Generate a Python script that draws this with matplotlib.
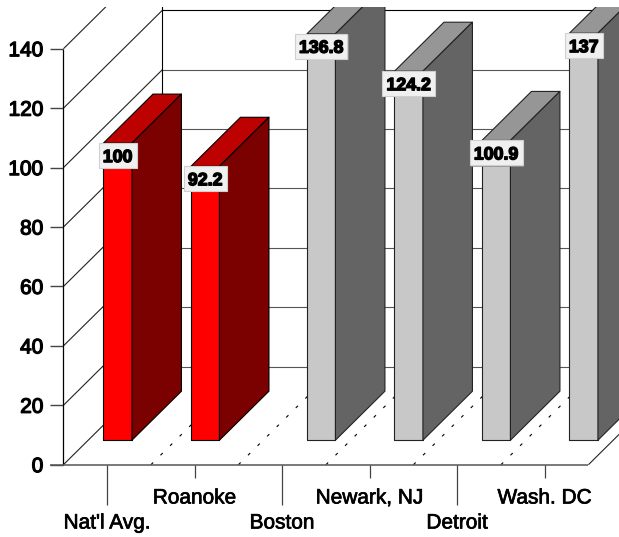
import matplotlib
matplotlib.use("Agg")
import matplotlib.pyplot as plt
from matplotlib.patches import Polygon, Rectangle
from matplotlib.transforms import IdentityTransform
import matplotlib.patheffects as pe

categories = ["Nat'l Avg.", "Roanoke", "Boston", "Newark, NJ", "Detroit", "Wash. DC"]
red_values = [100, 92.2, None, None, None, None]
gray_values = [None, None, 136.8, 124.2, 100.9, 137]
labels_red = ["100", "92.2", "", "", "", ""]
labels_gray = ["", "", "136.8", "124.2", "100.9", "137"]
y_ticks = [0, 20, 40, 60, 80, 100, 120, 140]

W, H = 619, 537
PX_CAT = 87.5
PX_VAL = 2.971
X0_PX = 107.2
Y0_PX = 464.7
TOP_PX = 7
DX = 99 / PX_CAT
DY = 98 / PX_VAL
BAR_W = 0.3255
D_FRONT, D_BACK = 0.25, 0.75

plt.rcParams["font.family"] = ["Liberation Sans", "DejaVu Sans"]
fig = plt.figure(figsize=(W / 100, H / 100), dpi=100, facecolor="white")
ax = fig.add_axes([0, 0, 1, (H - TOP_PX) / H])
ax.set_xlim(-X0_PX / PX_CAT, (W - X0_PX) / PX_CAT)
ax.set_ylim(-(H - Y0_PX) / PX_VAL, (Y0_PX - TOP_PX) / PX_VAL)
ax.axis("off")


def proj(c, v, d=0.0):
    return (c + d * DX, v + d * DY)


def seg(a, b, **kw):
    kw.setdefault("solid_capstyle", "butt")
    ax.plot([a[0], b[0]], [a[1], b[1]], **kw)


left = -0.5
right = len(categories) - 0.5
LW = 0.8

# walls and grid
for v in y_ticks:
    dark = "black" if v == 120 else "#555555"
    seg(proj(left, v, 0), proj(left, v, 1), color="#222222", lw=LW, zorder=1)
    seg(proj(left, v, 1), proj(right + 1.2, v, 1), color=dark, lw=LW, zorder=1)
    seg((left - 13.5 / PX_CAT, v), (left, v), color="#444444", lw=LW + 0.2, zorder=2)
    ax.text(left - 20 / PX_CAT, v, str(v), ha="right", va="center_baseline", fontsize=15,
            color="black", path_effects=[pe.withStroke(linewidth=0.9, foreground="black")], zorder=2)
seg((left, 0), (left, 140), color="black", lw=LW + 0.1, zorder=2)
seg(proj(left, 0, 1), proj(left, 160, 1), color="black", lw=LW, zorder=1)

# floor
seg((left - 13.5 / PX_CAT, 0), (right, 0), color="#555555", lw=LW + 0.3, zorder=2)
seg(proj(right, 0, 0), proj(right, 0, 1), color="#222222", lw=LW, zorder=1)
for i in range(1, len(categories)):
    ax.plot(*zip(proj(left + i, 0, 0), proj(left + i, 0, 1)), color="black", lw=LW,
            linestyle=(0, (2.8, 9.3)), zorder=1)

# category ticks and labels
for i, name in enumerate(categories):
    long_tick = i % 2 == 0
    length = 40 if long_tick else 13
    seg((i, 0), (i, -length / PX_VAL), color="#444444", lw=LW + 0.1, zorder=2)
    ypx = 523 if long_tick else 498
    ax.text(i, (Y0_PX - ypx) / PX_VAL, name, ha="center", va="center", fontsize=15, color="black",
            path_effects=[pe.withStroke(linewidth=0.5, foreground="black")], zorder=2)


def bar3d(c0, value, front, top, side, edge, z):
    c1 = c0 + BAR_W
    kw = dict(edgecolor=edge, linewidth=LW, joinstyle="round", zorder=z)
    ax.add_patch(Polygon([proj(c0, 0, D_FRONT), proj(c1, 0, D_FRONT),
                          proj(c1, value, D_FRONT), proj(c0, value, D_FRONT)], facecolor=front, **kw))
    ax.add_patch(Polygon([proj(c0, value, D_FRONT), proj(c1, value, D_FRONT),
                          proj(c1, value, D_BACK), proj(c0, value, D_BACK)], facecolor=top, **kw))
    ax.add_patch(Polygon([proj(c1, 0, D_FRONT), proj(c1, 0, D_BACK),
                          proj(c1, value, D_BACK), proj(c1, value, D_FRONT)], facecolor=side, **kw))


def label(c0, value, txt):
    cx, vy = proj(c0 + BAR_W / 2, value, D_FRONT)
    t = ax.annotate(txt, xy=(cx, vy), xytext=(0, -12.5 * 0.72), textcoords="offset points",
                    ha="center", va="center_baseline", fontsize=12.8, fontweight="bold", color="black",
                    path_effects=[pe.withStroke(linewidth=1.0, foreground="black")], zorder=102)
    fig.canvas.draw()
    bb = t.get_window_extent()
    px, py = ax.transData.transform((cx, vy))
    w = bb.width + 8
    ax.add_patch(Rectangle((px - w / 2 + 1.2, py - 25 - 1.2), w, 25, facecolor="#8f8f8f", edgecolor="none",
                           transform=IdentityTransform(), zorder=100, alpha=0.8))
    ax.add_patch(Rectangle((px - w / 2, py - 25), w, 25, facecolor="#f0f0f0", edgecolor="#d0d0d0",
                           linewidth=0.8, transform=IdentityTransform(), zorder=101))


z = 10
for i, (rv, gv) in enumerate(zip(red_values, gray_values)):
    if rv is not None:
        bar3d(i - BAR_W, rv, "#ff0000", "#bd0000", "#7b0000", "black", z)
    if gv is not None:
        bar3d(i, gv, "#c8c8c8", "#969696", "#646464", "#222222", z)
    z += 1

for i, (rv, lr, gv, lg) in enumerate(zip(red_values, labels_red, gray_values, labels_gray)):
    if rv is not None:
        label(i - BAR_W, rv, lr)
    if gv is not None:
        label(i, gv, lg)

fig.savefig("out.png", dpi=100, facecolor="white")
